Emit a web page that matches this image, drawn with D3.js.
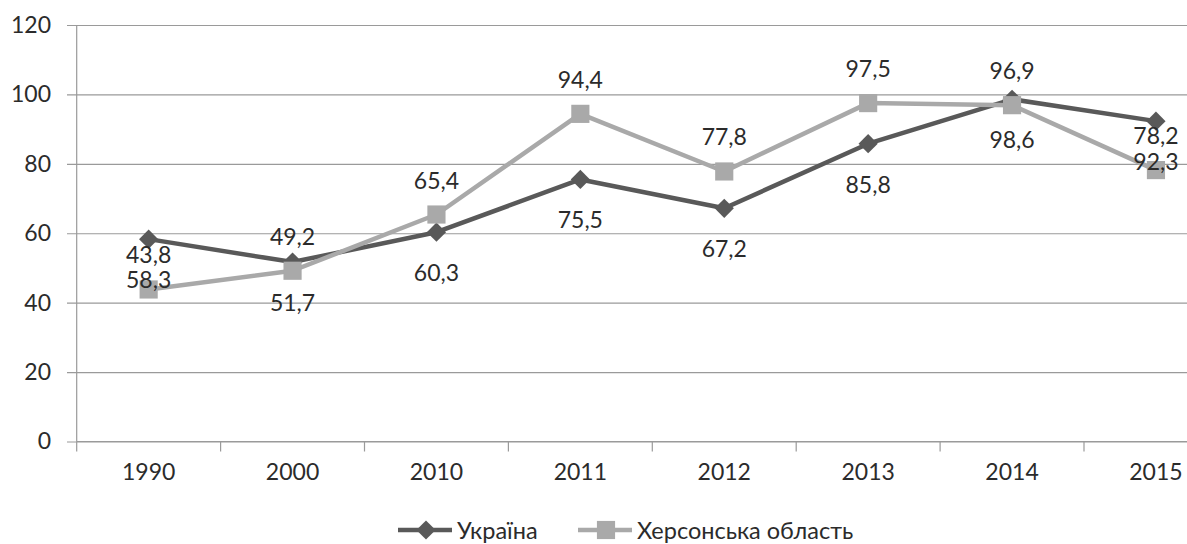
<!DOCTYPE html>
<html>
<head>
<meta charset="utf-8">
<script src="https://cdn.jsdelivr.net/npm/d3@7"></script>
<style>
  html, body { margin: 0; padding: 0; background: #fff; }
  svg { display: block; font-family: Lato, "Open Sans", sans-serif; }
</style>
</head>
<body>
<svg id="chart" width="1187" height="544"></svg>
<script>
// ---- data ----
const years = ["1990", "2000", "2010", "2011", "2012", "2013", "2014", "2015"];
const ukraine = [58.3, 51.7, 60.3, 75.5, 67.2, 85.8, 98.6, 92.3];
const kherson = [43.8, 49.2, 65.4, 94.4, 77.8, 97.5, 96.9, 78.2];
const yTicks = [0, 20, 40, 60, 80, 100, 120];
const seriesNames = ["Україна", "Херсонська область"];

// ---- layout ----
const W = 1187, H = 544;
const plotLeft = 76.7, step = 143.9;
const plotTop = 25, plotBottom = 441.5;
const darkCol = "#595959", lightCol = "#a9a9a9";
const gridCol = "#9a9a9a", textCol = "#2b2b2b";
const fontSize = 23;

const svg = d3.select("#chart");
const x = d3.scaleBand().domain(years).range([plotLeft, plotLeft + step * years.length]).padding(0);
const y = d3.scaleLinear().domain([0, 120]).range([plotBottom, plotTop]);
const cx = d => x(d) + x.bandwidth() / 2;

const loc = d3.formatLocale({ decimal: ",", thousands: " ", grouping: [3], currency: ["", ""] });
const fmt = loc.format(".1f");

// gridlines + y labels
const yAxis = d3.axisLeft(y).tickValues(yTicks).tickSize(-(W - 67)).tickPadding(16).tickFormat(d3.format("d"));
const gy = svg.append("g").attr("transform", "translate(67,0)").call(yAxis);
gy.select(".domain").remove();
gy.selectAll(".tick line").attr("stroke", gridCol).attr("stroke-width", 1.2);
gy.selectAll(".tick text").attr("fill", textCol).style("font-size", fontSize + "px").style("font-family", "Lato, sans-serif");

// y axis line
svg.append("line").attr("x1", plotLeft).attr("x2", plotLeft).attr("y1", plotTop).attr("y2", plotBottom)
  .attr("stroke", gridCol).attr("stroke-width", 1.2);

// x axis
const xAxis = d3.axisBottom(x).tickSize(0).tickPadding(22);
const gx = svg.append("g").attr("transform", `translate(0,${plotBottom})`).call(xAxis);
gx.select(".domain").remove();
gx.selectAll(".tick text").attr("fill", textCol).style("font-size", fontSize + "px").style("font-family", "Lato, sans-serif");
svg.append("line").attr("x1", plotLeft).attr("x2", W).attr("y1", plotBottom).attr("y2", plotBottom)
  .attr("stroke", gridCol).attr("stroke-width", 1.2);
const boundaries = years.map(d => x(d)).concat([x(years[years.length - 1]) + x.bandwidth()]);
svg.append("g").selectAll("line").data(boundaries).join("line")
  .attr("x1", d => d).attr("x2", d => d).attr("y1", plotBottom).attr("y2", plotBottom + 10)
  .attr("stroke", gridCol).attr("stroke-width", 1.2);

// series
const line = d3.line().x((d, i) => cx(years[i])).y(d => y(d));
const diamond = d3.symbol().type(d3.symbolSquare).size(185);
const square = d3.symbol().type(d3.symbolSquare).size(330);

function drawSeries(vals, col, sym, rot) {
  svg.append("path").datum(vals).attr("d", line).attr("fill", "none")
    .attr("stroke", col).attr("stroke-width", 4.5).attr("stroke-linejoin", "round");
  svg.append("g").selectAll("path").data(vals).join("path")
    .attr("d", sym)
    .attr("transform", (d, i) => `translate(${cx(years[i])},${y(d)}) rotate(${rot})`)
    .attr("fill", col);
}
drawSeries(ukraine, darkCol, diamond, 45);
drawSeries(kherson, lightCol, square, 0);

// data labels
function drawLabels(vals, dy) {
  svg.append("g").selectAll("text").data(vals).join("text")
    .attr("x", (d, i) => cx(years[i]))
    .attr("y", d => y(d) + dy)
    .attr("text-anchor", "middle").attr("dominant-baseline", "central")
    .attr("fill", textCol).style("font-size", fontSize + "px")
    .text(d => fmt(d));
}
drawLabels(ukraine, 40);
drawLabels(kherson, -35);

// legend
const legY = 530;
const legend = [
  { name: seriesNames[0], col: darkCol, sym: diamond, rot: 45, x0: 398 },
  { name: seriesNames[1], col: lightCol, sym: square, rot: 0, x0: 578 }
];
const lg = svg.append("g").selectAll("g").data(legend).join("g");
lg.append("line").attr("x1", d => d.x0).attr("x2", d => d.x0 + 54)
  .attr("y1", legY).attr("y2", legY).attr("stroke", d => d.col).attr("stroke-width", 4.5);
lg.append("path").attr("d", d => d.sym())
  .attr("transform", d => `translate(${d.x0 + 28},${legY}) rotate(${d.rot})`)
  .attr("fill", d => d.col);
lg.append("text").attr("x", d => d.x0 + 59).attr("y", legY)
  .attr("dominant-baseline", "central").attr("fill", textCol)
  .style("font-size", "23.5px").text(d => d.name);
</script>
</body>
</html>
